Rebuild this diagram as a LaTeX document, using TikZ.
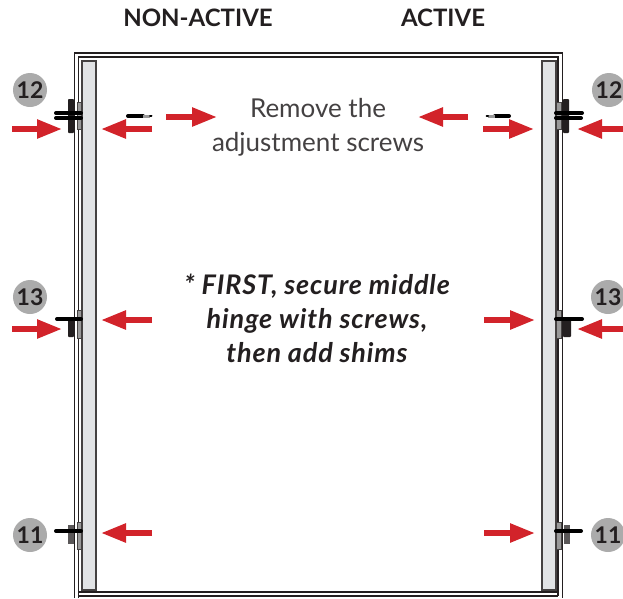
\documentclass[tikz,border=0pt]{standalone}
\usepackage{fontspec}
\setmainfont{Lato}
\newfontfamily\spacedfont[LetterSpace=3.2]{Lato}
\usetikzlibrary{arrows.meta}
\definecolor{arrowred}{HTML}{D2232A}
\definecolor{panelgray}{HTML}{E1E3E5}
\definecolor{badgegray}{HTML}{ABABAB}
\definecolor{inkblack}{HTML}{231F20}
\tikzset{redarrow/.style={draw=arrowred, line width=5.5pt, -{Triangle[length=25pt,width=18pt,fill=arrowred]}}}
\tikzset{frameline/.style={draw=inkblack, line width=1.6pt}}
\tikzset{panel/.style={draw=inkblack!85, line width=1.3pt, fill=panelgray}}
\tikzset{plate/.style={draw=inkblack!85, line width=1pt, fill=gray!80}}
\tikzset{block/.style={fill=inkblack, rounded corners=0.8pt}}
\tikzset{knurl/.style={fill=inkblack!75}}
\tikzset{hingescrew/.style={draw=black, line width=4pt, line cap=round}}
\tikzset{badge/.style={circle, fill=badgegray, minimum size=34pt, inner sep=0pt, text=inkblack, font=\fontsize{23}{23}\selectfont\bfseries}}
\tikzset{heading/.style={text=inkblack, font=\fontsize{24}{24}\selectfont\bfseries}}
\tikzset{note/.style={text=inkblack!85, align=center, font=\fontsize{26}{34}\selectfont}}
\tikzset{warning/.style={text=inkblack, align=center, font=\fontsize{27}{34}\selectfont\spacedfont\bfseries\itshape}}
\begin{document}
\begin{tikzpicture}[x=1pt, y=-1pt]
    \useasboundingbox (0, 0) rectangle (623, 598);
    % frame
    \draw [frameline] (74.5, 598) -- (74.5, 53) -- (562.5, 53) -- (562.5, 598);
    \draw [frameline] (78.5, 598) -- (78.5, 57) -- (558, 57) -- (558, 596);
    \draw [frameline] (78.5, 592) -- (558, 592);
    \draw [frameline] (78.5, 596) -- (558, 596);
    \draw [panel] (82, 61) rectangle (96, 590);
    \draw [panel] (542, 61) rectangle (556, 590);
    % hinges, left
    \fill [block] (68, 99) rectangle (74, 133);
    \draw [plate] (77, 102) rectangle (81, 129);
    \draw [hingescrew] (56, 113) -- (81, 113);
    \draw [hingescrew] (56, 118) -- (81, 118);
    \fill [block] (68, 318) rectangle (74, 337);
    \draw [plate] (77, 310) rectangle (81, 338);
    \draw [hingescrew] (57, 319) -- (81, 319);
    \fill [knurl] (68, 525) rectangle (74, 544);
    \draw [plate] (77, 522) rectangle (81, 549);
    \draw [hingescrew] (56, 531) -- (81, 531);
    % hinges, right
    \fill [block] (563, 99) rectangle (569, 133);
    \draw [plate] (556, 102) rectangle (561, 129);
    \draw [hingescrew] (556, 113) -- (582, 113);
    \draw [hingescrew] (556, 118) -- (581, 118);
    \fill [block] (563, 318) rectangle (571, 337);
    \draw [plate] (556, 310) rectangle (561, 338);
    \draw [hingescrew] (556, 319) -- (582, 319);
    \fill [knurl] (564, 525) rectangle (570, 544);
    \draw [plate] (556, 522) rectangle (561, 549);
    \draw [hingescrew] (556, 531) -- (581, 531);
    % loose screws
    \draw [hingescrew] (128, 116) -- (143, 116);
    \draw [draw=gray!80, line width=3pt] (143, 116) -- (150, 116);
    \draw [hingescrew, line width=2pt] (150, 116) -- (151.5, 116);
    \draw [hingescrew] (495, 116) -- (509, 116);
    \draw [draw=gray!80, line width=3pt] (488, 116) -- (495, 116);
    \draw [hingescrew, line width=2pt] (486.5, 116) -- (488, 116);
    % arrows
    \draw [redarrow] (12, 129) -- (62, 129);
    \draw [redarrow] (152, 129) -- (101, 129);
    \draw [redarrow] (166, 117) -- (217, 117);
    \draw [redarrow] (468, 117) -- (418, 117);
    \draw [redarrow] (483, 129) -- (534, 129);
    \draw [redarrow] (623, 129) -- (577, 129);
    \draw [redarrow] (12, 329) -- (62, 329);
    \draw [redarrow] (152, 320) -- (101, 320);
    \draw [redarrow] (484, 320) -- (535, 320);
    \draw [redarrow] (623, 329) -- (577, 329);
    \draw [redarrow] (152, 533) -- (101, 533);
    \draw [redarrow] (484, 533) -- (535, 533);
    % labels
    \node [heading] (nonactive) at (198, 18) {NON-ACTIVE};
    \node [heading] (active) at (443, 18) {ACTIVE};
    \node [note] (removenote) at (318, 127.5) {Remove the\\adjustment screws};
    \node [warning] (firstnote) at (317, 318) {* FIRST, secure middle\\hinge with screws,\\then add shims};
    \node [badge] (badgeA) at (30, 90) {12};
    \node [badge] (badgeB) at (609, 90) {12};
    \node [badge] (badgeC) at (30, 297) {13};
    \node [badge] (badgeD) at (608, 297) {13};
    \node [badge] (badgeE) at (30, 535) {11};
    \node [badge] (badgeF) at (608, 535) {11};
\end{tikzpicture}
\end{document}
